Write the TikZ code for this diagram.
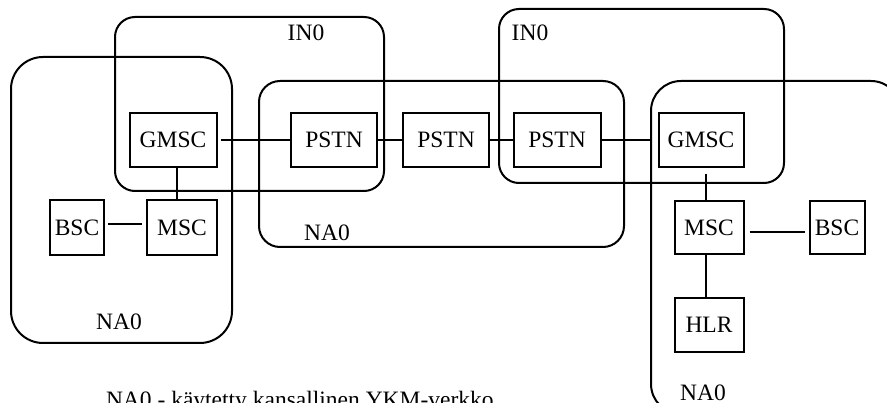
\documentclass[tikz,border=0pt]{standalone}
\usepackage{fontspec}
\setmainfont{Liberation Serif}
\begin{document}
\begin{tikzpicture}[x=1pt,y=-1pt,line width=2pt,
  every node/.style={font=\fontsize{23.5}{27}\selectfont},
  unit/.style={draw,rectangle,inner sep=0pt,minimum height=54pt,line width=2pt},
  area/.style={draw,line width=2pt},
  lbl/.style={inner sep=0pt}]
\useasboundingbox (0,0) rectangle (887,403);
\begin{scope}
\clip (0,0) rectangle (887,403);
% areas
\draw[area,rounded corners=20pt] (115,17) rectangle (384,191);
\draw[area,rounded corners=32pt] (11,57) rectangle (232,343);
\draw[area,rounded corners=21pt] (259,81) rectangle (624,247);
\draw[area,rounded corners=20pt] (499,9) rectangle (784,183);
\draw[area,rounded corners=30pt] (651,81) rectangle (901,414);
% units
\node[unit,minimum width=87pt] (gmscA) at (173,140) {GMSC};
\node[unit,minimum width=86pt] (pstnA) at (334,140) {PSTN};
\node[unit,minimum width=86pt] (pstnB) at (446,140) {PSTN};
\node[unit,minimum width=87pt] (pstnC) at (557,140) {PSTN};
\node[unit,minimum width=85pt] (gmscB) at (701,140) {GMSC};
\node[unit,minimum width=54pt,minimum height=55pt] (bscA) at (77,228) {BSC};
\node[unit,minimum width=70pt,minimum height=55pt] (mscA) at (182,228) {MSC};
\node[unit,minimum width=69pt,minimum height=53pt] (mscB) at (709,228) {MSC};
\node[unit,minimum width=55pt,minimum height=53pt] (bscB) at (837,228) {BSC};
\node[unit,minimum width=69pt] (hlr) at (709,325) {HLR};
% labels
\node[lbl] (inA) at (306,33) {IN0};
\node[lbl] (inB) at (530,33) {IN0};
\node[lbl] (naM) at (327,233) {NA0};
\node[lbl] (naL) at (119,322) {NA0};
\node[lbl] (naR) at (703,393) {NA0};
\node[lbl,anchor=base west] (note) at (105,408) {NA0 - käytetty kansallinen YKM-verkko};
% connectors
\draw ([xshift=3pt]gmscA.east) -- (pstnA.west);
\draw (pstnA.east) -- (pstnB.west);
\draw (pstnB.east) -- (pstnC.west);
\draw (pstnC.east) -- ([xshift=-6pt]gmscB.west);
\draw (gmscA.south -| 177,0) -- (mscA.north -| 177,0);
\draw ([xshift=3pt]bscA.east |- 0,224) -- ([xshift=-4pt]mscA.west |- 0,224);
\draw ([yshift=-6pt]gmscB.south -| 706,0) -- (mscB.north -| 706,0);
\draw ([xshift=5pt]mscB.east |- 0,232) -- ([xshift=-4pt]bscB.west |- 0,232);
\draw (mscB.south -| 706,0) -- (hlr.north -| 706,0);
\end{scope}
\end{tikzpicture}
\end{document}
